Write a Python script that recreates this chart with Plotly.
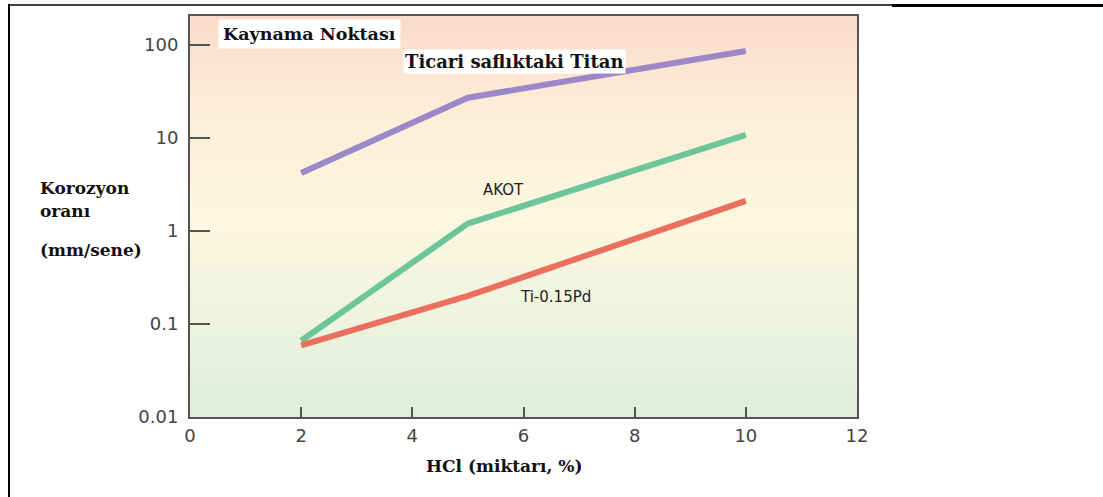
import plotly.graph_objects as go

# HCl concentration (%) and corrosion rate (mm/year) for each alloy
hcl = [2, 5, 10]
ticari_titan = [4.2, 27, 86]
akot = [0.066, 1.2, 10.8]
ti_pd = [0.059, 0.2, 2.1]

x_ticks = [0, 2, 4, 6, 8, 10, 12]
y_ticks = [0.01, 0.1, 1, 10, 100]
y_tick_text = ["0.01", "0.1", "1", "10", "100"]

W, H = 1103, 497
L, R, T, B = 190, 246, 16, 80
PW, PH = W - L - R, H - T - B


def px(xp):
    return (xp - L) / PW


def py(yp):
    return (H - B - yp) / PH


fig = go.Figure()

series = [
    (ticari_titan, "#9c88c8"),
    (akot, "#6cc59b"),
    (ti_pd, "#ea6f5e"),
]
for vals, col in series:
    fig.add_trace(go.Scatter(x=hcl, y=vals, mode="lines",
                             line=dict(color=col, width=6),
                             showlegend=False, hoverinfo="skip"))

# vertical background gradient: peach at top, cream middle, pale green bottom
stops = [
    (0.0, (223, 237, 219)),
    (0.25, (238, 244, 222)),
    (0.5, (253, 247, 224)),
    (0.75, (253, 238, 215)),
    (1.0, (251, 219, 203)),
]


def color_at(t):
    for (t0, c0), (t1, c1) in zip(stops[:-1], stops[1:]):
        if t0 <= t <= t1:
            f = (t - t0) / (t1 - t0)
            return "rgb(%d,%d,%d)" % tuple(round(a + (b - a) * f) for a, b in zip(c0, c1))
    return "rgb(%d,%d,%d)" % stops[-1][1]


shapes = []
n = 80
for i in range(n):
    y0, y1 = i / n, (i + 1) / n
    shapes.append(dict(type="rect", xref="x domain", yref="y domain",
                       x0=0, x1=1, y0=y0, y1=y1 + 0.002,
                       fillcolor=color_at((y0 + y1) / 2), line=dict(width=0),
                       layer="below"))

# outer frame lines
shapes.append(dict(type="line", xref="paper", yref="paper",
                   x0=px(9), x1=px(9), y0=py(4), y1=py(497),
                   line=dict(color="black", width=2)))
shapes.append(dict(type="line", xref="paper", yref="paper",
                   x0=px(9), x1=px(892), y0=py(5), y1=py(5),
                   line=dict(color="black", width=1.5)))
shapes.append(dict(type="line", xref="paper", yref="paper",
                   x0=px(892), x1=px(1103), y0=py(5.5), y1=py(5.5),
                   line=dict(color="black", width=3)))

serif = "DejaVu Serif, serif"
sans = "DejaVu Sans, sans-serif"

annotations = [
    dict(text="<b>Kaynama Noktası</b>", x=px(218), y=py(34), xref="paper", yref="paper",
         xanchor="left", yanchor="middle", showarrow=False, bgcolor="white",
         borderpad=4, font=dict(family=serif, size=17.5, color="#111")),
    dict(text="<b>Ticari saflıktaki Titan</b>", x=px(403), y=py(62), xref="paper", yref="paper",
         xanchor="left", yanchor="middle", showarrow=False, bgcolor="white",
         borderpad=1, font=dict(family=serif, size=18, color="#111")),
    dict(text="AKOT", x=px(503), y=py(190), xref="paper", yref="paper",
         xanchor="center", yanchor="middle", showarrow=False,
         font=dict(family=sans, size=15, color="#222")),
    dict(text="Ti-0.15Pd", x=px(555), y=py(297), xref="paper", yref="paper",
         xanchor="center", yanchor="middle", showarrow=False,
         font=dict(family=sans, size=15, color="#222")),
    dict(text="<b>Korozyon</b>", x=px(38), y=py(188), xref="paper", yref="paper",
         xanchor="left", yanchor="middle", showarrow=False,
         font=dict(family=serif, size=17, color="#111")),
    dict(text="<b>oranı</b>", x=px(38), y=py(211), xref="paper", yref="paper",
         xanchor="left", yanchor="middle", showarrow=False,
         font=dict(family=serif, size=17, color="#111")),
    dict(text="<b>(mm/sene)</b>", x=px(38), y=py(250), xref="paper", yref="paper",
         xanchor="left", yanchor="middle", showarrow=False,
         font=dict(family=serif, size=17, color="#111")),
    dict(text="<b>HCl (miktarı, %)</b>", x=px(504), y=py(466), xref="paper", yref="paper",
         xanchor="center", yanchor="middle", showarrow=False,
         font=dict(family=serif, size=17, color="#111")),
]

tick_font = dict(family="DejaVu Sans, Verdana, sans-serif", size=18, color="#444")

fig.update_layout(
    width=W, height=H,
    margin=dict(l=L, r=R, t=T, b=B),
    paper_bgcolor="white",
    plot_bgcolor="white",
    shapes=shapes,
    annotations=annotations,
    xaxis=dict(range=[0, 12], tickvals=x_ticks, ticktext=[str(v) for v in x_ticks],
               ticks="inside", ticklen=10, tickwidth=2, tickcolor="#555",
               showline=True, linecolor="#555", linewidth=2, mirror=True,
               showgrid=False, zeroline=False, tickfont=tick_font, ticklabelstandoff=1),
    yaxis=dict(type="log", range=[-2, 2.31], tickvals=y_ticks, ticktext=y_tick_text,
               ticks="inside", ticklen=20, tickwidth=2, tickcolor="#555",
               showline=True, linecolor="#555", linewidth=2, mirror=True,
               showgrid=False, zeroline=False, tickfont=tick_font, ticklabelstandoff=6),
)

fig.write_html("out.html")
